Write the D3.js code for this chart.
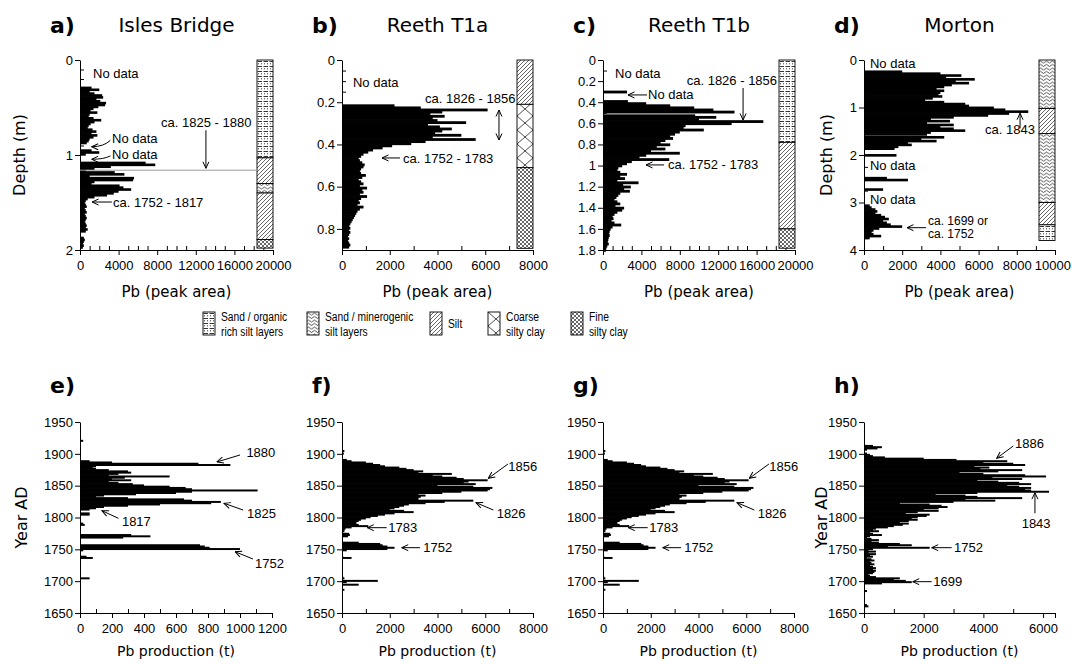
<!DOCTYPE html>
<html>
<head>
<meta charset="utf-8">
<script src="https://cdn.jsdelivr.net/npm/d3@7"></script>
<style>
  body { margin: 0; background: #fff; }
  svg { display: block; }
</style>
</head>
<body>
<svg id="chart" width="1072" height="664"></svg>
<script>
// ---- data: Pb peak area by depth (m) -> [top of sample, value]
const islesBridge = [
  [0.28,1200],[0.30,2000],[0.32,1000],[0.34,1500],[0.36,2300],[0.38,2400],[0.40,1700],[0.42,2100],
  [0.44,2700],[0.46,2600],[0.48,1900],[0.50,1400],[0.52,1100],[0.54,1800],[0.56,1000],[0.58,900],
  [0.60,1400],[0.62,2200],[0.64,1500],[0.66,1100],[0.68,900],[0.70,800],[0.72,1300],[0.74,1700],
  [0.76,1200],[0.78,1800],[0.80,1400],[0.82,1000],[0.84,900],[0.86,700],
  [0.94,1200],[0.96,2000],[0.98,600],
  [1.07,6800],[1.09,7800],[1.11,3200],[1.13,1500],[1.15,600],[1.17,3600],[1.19,4600],[1.21,1000],
  [1.23,5600],[1.25,5500],[1.27,1500],[1.29,1200],[1.31,4100],[1.33,4500],[1.35,5300],[1.37,4000],
  [1.39,3500],[1.41,2800],[1.43,1500],[1.45,800],[1.47,600],[1.49,500],[1.51,600],[1.53,700],
  [1.55,500],[1.57,600],[1.59,700],[1.61,500],[1.63,600],[1.65,700],[1.67,600],[1.69,500],
  [1.71,600],[1.73,700],[1.75,600],[1.77,800],[1.79,600],
  [1.86,400],[1.88,500],[1.90,400],[1.92,300],[1.94,400],[1.96,300]
];
const reethT1a = [
  [0.21,2200],[0.22,3300],[0.23,6100],[0.24,4200],[0.25,3700],[0.26,4300],[0.27,3800],[0.28,4000],
  [0.29,5200],[0.30,3600],[0.31,4100],[0.32,4600],[0.33,4200],[0.34,3900],[0.35,5000],[0.36,3800],
  [0.37,5600],[0.38,3500],[0.39,2900],[0.40,2100],[0.41,1700],[0.42,1300],[0.43,1100],[0.44,900],
  [0.45,800],[0.46,700],[0.47,750],[0.48,850],[0.49,950],[0.50,900],[0.51,800],[0.52,750],
  [0.53,800],[0.54,1000],[0.55,850],[0.56,700],[0.57,800],[0.58,900],[0.59,750],[0.60,1050],
  [0.61,850],[0.62,900],[0.63,750],[0.64,1050],[0.65,800],[0.66,700],[0.67,750],[0.68,650],
  [0.69,900],[0.70,750],[0.71,650],[0.72,600],[0.73,550],[0.74,500],[0.75,450],[0.76,400],
  [0.77,350],[0.78,300],[0.79,350],[0.80,300],[0.81,350],[0.82,300],[0.83,250],[0.84,300],
  [0.85,250],[0.86,300],[0.87,350],[0.88,300]
];
const reethT1b = [
  [0.29,2500],
  [0.38,2600],[0.40,4500],[0.42,7000],[0.44,9500],[0.46,11500],[0.48,13700],
  [0.515,9600],[0.53,11800],[0.55,10000],[0.57,16700],[0.59,13400],[0.61,8600],[0.63,8400],
  [0.65,10500],[0.67,8000],[0.69,7500],[0.71,7000],[0.73,7300],[0.75,6500],[0.77,6000],[0.79,7000],
  [0.81,5600],[0.83,6500],[0.85,5000],[0.87,8000],[0.89,4500],[0.91,3800],[0.93,6900],[0.95,3000],
  [0.97,2500],[0.99,2000],[1.01,1600],[1.03,1500],[1.05,1800],[1.07,2500],[1.09,1800],[1.11,2300],
  [1.13,1500],[1.15,3700],[1.17,2100],[1.19,2900],[1.21,2200],[1.23,2800],[1.25,1800],[1.27,1600],
  [1.29,1400],[1.31,1200],[1.33,1500],[1.35,1800],[1.37,1300],[1.39,2200],[1.41,2000],[1.43,1500],
  [1.45,1200],[1.47,1000],[1.49,1100],[1.51,900],[1.53,1200],[1.55,1900],[1.57,1000],[1.59,800],
  [1.61,700],[1.63,650],[1.65,700],[1.67,600],[1.69,550],[1.71,500],[1.73,600],[1.75,450],
  [1.77,350],[1.79,300]
];
const morton = [
  [0.22,2000],[0.26,4000],[0.30,5100],[0.34,4300],[0.38,5800],[0.42,4800],[0.46,5500],[0.50,4600],
  [0.54,4200],[0.58,3800],[0.62,4200],[0.66,4000],[0.70,3900],[0.74,4100],[0.78,3600],[0.82,3200],
  [0.86,4200],[0.90,5300],[0.94,5500],[0.98,6800],[1.02,7400],[1.06,8600],[1.10,7600],[1.14,6500],
  [1.18,4700],[1.22,3500],[1.26,4500],[1.30,3300],[1.34,4700],[1.38,4000],[1.42,4700],[1.46,5300],
  [1.50,3500],[1.54,3300],
  [1.60,4200],[1.64,3000],[1.68,3800],[1.72,2300],[1.76,2500],[1.80,1800],[1.84,1600],
  [1.98,1700],
  [2.46,1200],[2.50,2300],
  [2.70,1000],
  [3.04,300],[3.08,400],[3.12,600],[3.16,700],[3.20,600],[3.24,900],[3.28,1100],[3.32,1300],
  [3.36,1000],[3.40,1200],[3.44,1400],[3.48,2000],[3.52,800],[3.56,500],[3.60,400],[3.64,500],
  [3.68,900],[3.72,300]
];

// ---- data: Pb production (t) by year AD -> [year, value]
const islesProd = [
  [1920,20],
  [1888,60],[1886,200],[1884,740],[1882,940],[1880,100],[1878,80],[1876,100],[1874,180],[1872,300],
  [1870,320],[1868,240],[1866,180],[1864,560],[1862,280],[1860,200],[1858,320],[1856,180],[1854,240],
  [1852,330],[1850,400],[1848,560],[1846,660],[1844,700],[1842,1110],[1840,700],[1838,600],[1836,350],
  [1834,150],[1832,100],[1830,300],[1828,650],[1826,700],[1824,880],[1822,820],[1820,500],[1818,300],
  [1816,150],[1814,100],[1812,60],
  [1806,60],[1804,60],
  [1790,20],[1788,30],
  [1772,320],[1770,440],[1768,270],
  [1756,750],[1754,780],[1752,810],[1750,1000],[1748,20],
  [1738,40],[1736,80],
  [1704,60]
];
const reethProd = [
  [1904,100],[1900,80],
  [1890,200],[1888,400],[1886,1000],[1884,1300],[1882,1600],[1880,1800],[1878,2400],[1876,2700],
  [1874,3000],[1872,3400],[1870,3200],[1868,4600],[1866,3800],[1864,4200],[1862,4800],[1860,5100],
  [1858,6100],[1856,5300],[1854,5100],[1852,5600],[1850,4000],[1848,5500],[1846,6300],[1844,6200],
  [1842,6100],[1840,5000],[1838,4200],[1836,3200],[1834,3500],[1832,3300],[1830,3200],[1828,3200],
  [1826,5500],[1824,4300],[1822,3500],[1820,2800],[1818,2600],[1816,2400],[1814,2200],[1812,2000],
  [1810,2600],[1808,3000],[1806,2200],[1804,1800],[1802,1500],[1800,1200],[1798,1000],[1796,800],
  [1794,700],[1792,600],[1790,600],[1788,700],[1786,1100],[1784,400],[1782,150],[1780,100],[1778,100],
  [1774,300],[1772,330],[1770,250],
  [1760,700],[1758,1600],[1756,1700],[1754,1900],[1752,2200],[1750,1900],[1748,200],
  [1738,50],[1736,400],
  [1706,50],[1704,100],[1700,1500],[1698,200],[1694,700],[1686,100]
];
const mortonProd = [
  [1912,300],[1910,600],[1908,450],[1906,100],
  [1900,100],[1898,200],[1896,300],[1894,700],[1892,2000],[1890,3100],[1888,4800],[1886,4000],
  [1884,5000],[1882,5400],[1880,3700],[1878,4200],[1876,3900],[1874,5300],[1872,4500],[1870,3200],
  [1868,4000],[1866,5400],[1864,6100],[1862,4300],[1860,5300],[1858,3800],[1856,4500],[1854,5200],
  [1852,5600],[1850,4800],[1848,5200],[1846,5600],[1844,5400],[1842,5600],[1840,6200],[1838,3800],
  [1836,2400],[1834,3400],[1832,3800],[1830,5300],[1828,3400],[1826,4400],[1824,3000],[1822,1200],
  [1820,2200],[1818,2600],[1816,2800],[1814,2500],[1812,2000],[1810,2500],[1808,1800],[1806,1400],
  [1804,2200],[1802,2100],[1800,1800],[1798,1600],[1796,1800],[1794,1500],[1792,1200],[1790,1500],
  [1788,1300],[1786,1000],[1784,800],[1782,400],[1780,300],[1778,500],[1776,200],[1774,300],
  [1772,600],[1770,200],[1768,100],[1766,250],[1764,500],[1762,250],[1760,500],[1758,1200],
  [1756,1600],[1754,800],[1752,2200],[1750,300],[1748,150],[1746,400],[1744,150],[1742,400],
  [1740,200],[1738,300],[1736,100],[1734,250],[1732,350],[1730,200],[1728,250],[1726,350],
  [1724,200],[1722,300],[1720,400],[1718,300],[1716,400],[1714,350],[1712,300],[1710,150],
  [1708,200],[1706,400],[1704,1200],[1702,1000],[1700,1400],[1698,1600],[1696,600],
  [1684,100],[1662,100],[1660,150]
];

// ---- lithology columns: [top, bottom, unit]
const lithIsles = [[0,1.03,'organic'],[1.03,1.30,'silt'],[1.30,1.40,'minero'],[1.40,1.89,'silt'],[1.89,1.98,'fine']];
const lithT1a = [[0,0.21,'silt'],[0.21,0.51,'coarse'],[0.51,0.892,'fine']];
const lithT1b = [[0,0.78,'organic'],[0.78,1.60,'silt'],[1.60,1.783,'fine']];
const lithMorton = [[0,1.02,'minero'],[1.02,1.55,'silt'],[1.55,3.0,'minero'],[3.0,3.47,'silt'],[3.47,3.8,'organic']];

const legendUnits = ['organic','minero','silt','coarse','fine'];
const legendLabels = [['Sand / organic','rich silt layers'],['Sand / minerogenic','silt layers'],['Silt'],['Coarse','silty clay'],['Fine','silty clay']];

// ---- annotations (data units)
const notesIsles = [
  {t:['No data'], x:1350, y:0.14},
  {t:['ca. 1825 - 1880'], x:8400, y:0.66}, {a:[13050,0.74,13050,1.14]},
  {t:['No data'], x:3320, y:0.824}, {a:[3150,0.845,1210,0.913], curve:true},
  {t:['No data'], x:3320, y:0.993}, {a:[3150,1.01,1210,1.045], curve:true},
  {t:['ca. 1752 - 1817'], x:3420, y:1.495}, {a:[3300,1.495,1250,1.495]},
  {hline:1.16}
];
const notesT1a = [
  {t:['No data'], x:460, y:0.104},
  {t:['ca. 1826 - 1856'], x:3480, y:0.181}, {a:[6575,0.237,6575,0.379], both:true},
  {t:['ca. 1752 - 1783'], x:2555, y:0.464}, {a:[2430,0.464,1675,0.464]}
];
const notesT1b = [
  {t:['No data'], x:1250, y:0.123},
  {t:['No data'], x:4690, y:0.331}, {a:[4585,0.331,2600,0.331]},
  {t:['ca. 1826 - 1856'], x:8720, y:0.189}, {a:[14590,0.265,14590,0.568]},
  {t:['ca. 1752 - 1783'], x:6770, y:0.994}, {a:[6355,0.994,4480,0.994]}
];
const notesMorton = [
  {t:['No data'], x:314, y:0.07},
  {t:['No data'], x:314, y:2.22},
  {t:['No data'], x:314, y:2.93},
  {t:['ca. 1843'], x:6336, y:1.47}, {a:[8170,1.44,8170,1.12]},
  {t:['ca. 1699 or'], x:3350, y:3.38, small:true}, {t:['ca. 1752'], x:3350, y:3.66, small:true},
  {a:[3245,3.53,2250,3.53]}
];
const notesIslesProd = [
  {t:['1880'], x:1040, y:1902.9}, {a:[1000,1898.2,856,1887.2]},
  {t:['1825'], x:1044, y:1807}, {a:[1019,1811.8,900,1822.3]},
  {t:['1817'], x:262, y:1794.5}, {a:[240,1798.7,137,1810.7]},
  {t:['1752'], x:1094, y:1728.5}, {a:[1081,1734.8,969,1746.3]}
];
const notesReethProd = [
  {t:['1856'], x:6965, y:1879.8}, {a:[6950,1884,6128,1861.5]},
  {t:['1826'], x:6478, y:1806.6}, {a:[6337,1811.8,5612,1823.3]},
  {t:['1783'], x:1940, y:1784}, {a:[1870,1784,1060,1784]},
  {t:['1752'], x:3405, y:1752.6}, {a:[3267,1752.6,2500,1752.6]}
];
const notesMortonProd = [
  {t:['1886'], x:5058, y:1916.5}, {a:[5002,1912.3,4445,1893]},
  {t:['1843'], x:5283, y:1790.9}, {a:[5728,1806.6,5728,1839]},
  {t:['1752'], x:3015, y:1752.6}, {a:[2938,1752.6,2268,1752.6]},
  {t:['1699'], x:2322, y:1699.2}, {a:[2268,1699.2,1632,1699.2]}
];

// ---- layout
const TOP = [60, 250], BOT = [613, 422];
const panels = [
  {letter:'a)', title:'Isles Bridge', data:islesBridge, step:0.02, xr:[80,273], yr:TOP, xd:[0,20000], yd:[0,2],
   xMaj:4000, xMin:1000, yMaj:1, yMin:0.1, lith:lithIsles, yTitle:'Depth (m)', yOff:55, xTitle:'Pb (peak area)', notes:notesIsles},
  {letter:'b)', title:'Reeth T1a', data:reethT1a, step:0.01, xr:[342,533], yr:TOP, xd:[0,8000], yd:[0,0.9],
   xMaj:2000, xMin:1000, yMaj:0.2, yMin:0.05, lith:lithT1a, xTitle:'Pb (peak area)', notes:notesT1a},
  {letter:'c)', title:'Reeth T1b', data:reethT1b, step:0.02, xr:[603,795], yr:TOP, xd:[0,20000], yd:[0,1.8],
   xMaj:4000, xMin:1000, yMaj:0.2, yMin:0.1, lith:lithT1b, xTitle:'Pb (peak area)', notes:notesT1b},
  {letter:'d)', title:'Morton', data:morton, step:0.04, xr:[864,1055], yr:TOP, xd:[0,10000], yd:[0,4],
   xMaj:2000, xMin:1000, yMaj:1, yMin:0.25, lith:lithMorton, yTitle:'Depth (m)', yOff:32, xTitle:'Pb (peak area)', notes:notesMorton},
  {letter:'e)', data:islesProd, step:2, xr:[80,272], yr:BOT, xd:[0,1200], yd:[1650,1950],
   xMaj:200, xMin:100, yMaj:50, yTitle:'Year AD', yOff:53, xTitle:'Pb production (t)', notes:notesIslesProd},
  {letter:'f)', data:reethProd, step:2, xr:[342,533], yr:BOT, xd:[0,8000], yd:[1650,1950],
   xMaj:2000, xMin:1000, yMaj:50, xTitle:'Pb production (t)', notes:notesReethProd},
  {letter:'g)', data:reethProd, step:2, xr:[603,794], yr:BOT, xd:[0,8000], yd:[1650,1950],
   xMaj:2000, xMin:1000, yMaj:50, xTitle:'Pb production (t)', notes:notesReethProd},
  {letter:'h)', data:mortonProd, step:2, xr:[864,1055], yr:BOT, xd:[0,6400], yd:[1650,1950],
   xMaj:2000, xMin:1000, yMaj:50, xEnd:true, yTitle:'Year AD', yOff:37, xTitle:'Pb production (t)', notes:notesMortonProd}
];

const TICK_FONT = '"Liberation Sans", Arial, sans-serif';
const TITLE_FONT = '"DejaVu Sans", Verdana, sans-serif';

const svg = d3.select('#chart');
const defs = svg.append('defs');

// lithology fill patterns
function pattern(id, w, h, d, sw) {
  const p = defs.append('pattern').attr('id', 'pat-' + id)
    .attr('patternUnits', 'userSpaceOnUse').attr('width', w).attr('height', h);
  p.append('rect').attr('width', w).attr('height', h).attr('fill', '#fff');
  p.append('path').attr('d', d).attr('fill', 'none').attr('stroke', '#000').attr('stroke-width', sw);
}
pattern('organic', 6, 5, 'M0.5,1.5H5M1,3.8H2M4,3.8H5', 0.8);
pattern('minero', 6, 3.5, 'M0,2Q1.5,0 3,2T6,2', 0.7);
pattern('silt', 4, 4, 'M0,4L4,0M-1,1L1,-1M3,5L5,3', 0.6);
pattern('coarse', 16, 14, 'M0,0L16,14M16,0L0,14', 0.7);
pattern('fine', 4, 4, 'M0,0L4,4M4,0L0,4', 0.6);

// open arrow head
defs.append('marker').attr('id', 'arrow')
  .attr('viewBox', '0 0 8 8').attr('refX', 7.5).attr('refY', 4)
  .attr('markerWidth', 8).attr('markerHeight', 8)
  .attr('markerUnits', 'userSpaceOnUse').attr('orient', 'auto-start-reverse')
  .append('path').attr('d', 'M1,1L7.5,4L1,7').attr('fill', 'none')
  .attr('stroke', '#000').attr('stroke-width', 1);

const fmt = d3.format('~g');
const steps = (dom, s) => d3.range(dom[0], dom[1] + 1e-9, s).map(v => +v.toFixed(6));
const onGrid = (v, s) => Math.abs(v / s - Math.round(v / s)) < 1e-6;

function styleAxis(a) {
  a.attr('font-family', TICK_FONT).attr('font-size', 13);
  a.selectAll('text').attr('fill', '#000');
  a.selectAll('line,path').attr('stroke', '#000');
}

function drawPanel(p) {
  const x = d3.scaleLinear().domain(p.xd).range(p.xr);
  const y = d3.scaleLinear().domain(p.yd).range(p.yr);
  const g = svg.append('g');
  const yBottom = Math.max(...p.yr), yTop = Math.min(...p.yr);
  const xMid = (p.xr[0] + p.xr[1]) / 2;

  // bars (slightly overlapped so adjacent samples read as a solid profile)
  g.append('g').selectAll('rect').data(p.data).join('rect')
    .attr('x', x(0))
    .attr('y', d => Math.min(y(d[0]), y(d[0] + p.step)))
    .attr('width', d => x(d[1]) - x(0))
    .attr('height', d => Math.abs(y(d[0] + p.step) - y(d[0])) + 0.7)
    .attr('fill', '#000');

  // y axis
  const yMajors = steps(p.yd, p.yMaj);
  g.append('g').attr('transform', `translate(${p.xr[0]},0)`)
    .call(d3.axisLeft(y).tickValues(yMajors).tickSize(5).tickSizeOuter(0).tickPadding(2).tickFormat(fmt))
    .call(styleAxis);
  if (p.yMin) {
    const yMinors = steps(p.yd, p.yMin).filter(v => !onGrid(v - p.yd[0], p.yMaj));
    g.append('g').attr('transform', `translate(${p.xr[0]},0)`)
      .call(d3.axisLeft(y).tickValues(yMinors).tickSize(-4).tickSizeOuter(0).tickFormat(''))
      .call(a => a.select('.domain').remove()).call(styleAxis);
  }

  // x axis
  let xMajors = steps(p.xd, p.xMaj);
  if (p.xEnd) xMajors = xMajors.concat([p.xd[1]]);
  const xa = g.append('g').attr('transform', `translate(0,${yBottom})`)
    .call(d3.axisBottom(x).tickValues(xMajors).tickSize(5).tickSizeOuter(0).tickPadding(6)
      .tickFormat(v => onGrid(v, p.xMaj) ? fmt(v) : ''))
    .call(styleAxis);
  // keep the last label inside the page
  xa.selectAll('.tick text').each(function () {
    const b = this.getBBox(), m = this.parentNode.transform.baseVal.consolidate().matrix.e;
    const over = m + b.x + b.width - 1071;
    if (over > 0) d3.select(this).attr('x', -over);
  });
  const xMinors = steps(p.xd, p.xMin).filter(v => !onGrid(v, p.xMaj));
  g.append('g').attr('transform', `translate(0,${yBottom})`)
    .call(d3.axisBottom(x).tickValues(xMinors).tickSize(-4).tickSizeOuter(0).tickFormat(''))
    .call(a => a.select('.domain').remove()).call(styleAxis);

  // lithology column
  if (p.lith) {
    const colW = 16, cx = p.xr[1] - colW;
    const col = g.append('g').attr('transform', `translate(${cx},${y(0)})`);
    col.selectAll('rect').data(p.lith).join('rect')
      .attr('x', 0).attr('y', d => y(d[0]) - y(0))
      .attr('width', colW).attr('height', d => y(d[1]) - y(d[0]))
      .attr('fill', d => `url(#pat-${d[2]})`)
      .attr('stroke', '#000').attr('stroke-width', 0.9);
  }

  // annotations
  p.notes.forEach(n => {
    if (n.t) {
      g.append('text').attr('font-family', TICK_FONT).attr('font-size', n.small ? 12 : 13)
        .attr('x', x(n.x)).attr('y', y(n.y)).attr('dy', '0.35em').text(n.t[0]);
    }
    if (n.a) {
      const [x1, y1, x2, y2] = [x(n.a[0]), y(n.a[1]), x(n.a[2]), y(n.a[3])];
      const d = n.curve
        ? `M${x1},${y1}Q${x1 - (x1 - x2) * 0.35},${y2} ${x2},${y2}`
        : `M${x1},${y1}L${x2},${y2}`;
      const path = g.append('path').attr('d', d).attr('fill', 'none')
        .attr('stroke', '#000').attr('stroke-width', 1).attr('marker-end', 'url(#arrow)');
      if (n.both) path.attr('marker-start', 'url(#arrow)');
    }
    if (n.hline !== undefined) {
      g.append('line').attr('x1', x(0)).attr('x2', p.xr[1] - 16)
        .attr('y1', y(n.hline)).attr('y2', y(n.hline))
        .attr('stroke', '#9a9a9a').attr('stroke-width', 1);
    }
  });

  // titles
  const letterY = yTop === 60 ? 33 : 393;
  g.append('text').attr('x', p.xr[0] - 30).attr('y', letterY)
    .attr('font-family', TITLE_FONT).attr('font-weight', 'bold').attr('font-size', 22).text(p.letter);
  if (p.title) {
    g.append('text').attr('x', xMid).attr('y', 32).attr('text-anchor', 'middle')
      .attr('font-family', TITLE_FONT).attr('font-size', 20).text(p.title);
  }
  g.append('text').attr('x', xMid).attr('y', yBottom + (yTop === 60 ? 47 : 43))
    .attr('text-anchor', 'middle').attr('font-family', TITLE_FONT)
    .attr('font-size', yTop === 60 ? 15 : 14).text(p.xTitle);
  if (p.yTitle) {
    const ty = (yTop + yBottom) / 2;
    g.append('text').attr('transform', `translate(${p.xr[0] - p.yOff},${ty}) rotate(-90)`)
      .attr('text-anchor', 'middle').attr('font-family', TITLE_FONT).attr('font-size', 16)
      .text(p.yTitle);
  }
}

panels.forEach(drawPanel);

// legend
const legendX = [203, 307, 430, 488, 571];
const lg = svg.append('g');
legendUnits.forEach((u, i) => {
  const bx = legendX[i];
  lg.append('g').attr('transform', `translate(${bx},312)`)
    .append('rect').attr('width', 12).attr('height', 23)
    .attr('fill', `url(#pat-${u})`).attr('stroke', '#000').attr('stroke-width', 0.9);
  const lines = legendLabels[i];
  // narrow lettering: regular sans squeezed horizontally
  const t = lg.append('text')
    .attr('transform', `translate(${bx + 18},0) scale(0.76,1)`)
    .attr('font-family', TICK_FONT).attr('font-size', 13.5);
  if (lines.length === 1) {
    t.append('tspan').attr('x', 0).attr('y', 328).text(lines[0]);
  } else {
    t.append('tspan').attr('x', 0).attr('y', 321).text(lines[0]);
    t.append('tspan').attr('x', 0).attr('y', 336).text(lines[1]);
  }
});
</script>
</body>
</html>
